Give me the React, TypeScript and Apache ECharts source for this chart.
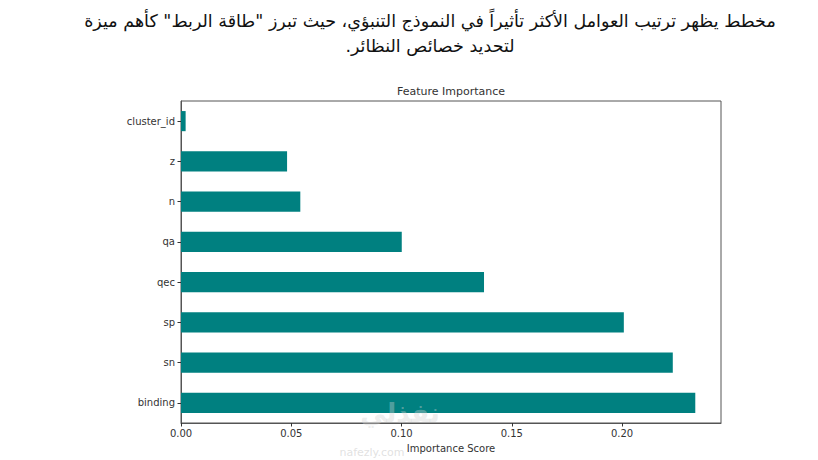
import React, { useEffect, useRef } from "react";
import * as echarts from "echarts";

const categories = ["binding", "sn", "sp", "qec", "qa", "n", "z", "cluster_id"];
const importance = [0.2332, 0.223, 0.2008, 0.1374, 0.1001, 0.0541, 0.0481, 0.0021];
const xTicks = [0, 0.05, 0.1, 0.15, 0.2];
const headingLines = [
  'مخطط يظهر ترتيب العوامل الأكثر تأثيراً في النموذج التنبؤي، حيث تبرز "طاقة الربط" كأهم ميزة',
  "لتحديد خصائص النظائر.",
];
const chartTitle = "Feature Importance";
const xName = "Importance Score";
const watermark = ["نفذلي", "nafezly.com"];

const RLM = "\u200F";

export default function App() {
  const ref = useRef<HTMLDivElement>(null);
  useEffect(() => {
    if (!ref.current) return;
    const chart = echarts.init(ref.current, undefined, { renderer: "svg" });
    const font = "DejaVu Sans";
    chart.setOption({
      animation: false,
      backgroundColor: "#ffffff",
      grid: {
        left: 181,
        right: 97,
        top: 101,
        bottom: 37,
        show: true,
        borderColor: "#555",
        borderWidth: 1,
        containLabel: false,
      },
      xAxis: {
        type: "value",
        min: 0,
        max: Math.max(...importance) * 1.05,
        interval: 0.05,
        name: xName,
        nameLocation: "middle",
        nameGap: 20,
        nameTextStyle: { fontFamily: font, fontSize: 10, color: "#333" },
        axisLine: { show: true, lineStyle: { color: "#555", width: 1 } },
        axisTick: { show: true, length: 3.5, lineStyle: { color: "#333" } },
        splitLine: { show: false },
        axisLabel: {
          fontFamily: font,
          fontSize: 10,
          color: "#333",
          margin: 5,
          showMaxLabel: false,
          formatter: (v: number) =>
            xTicks.some((t) => Math.abs(t - v) < 1e-9) ? v.toFixed(2) : "",
        },
      },
      yAxis: {
        type: "category",
        data: categories,
        axisLine: { show: true, lineStyle: { color: "#555", width: 1 } },
        axisTick: { show: true, alignWithLabel: true, length: 3.5, lineStyle: { color: "#333" } },
        axisLabel: { fontFamily: font, fontSize: 10, color: "#333", margin: 6 },
        splitLine: { show: false },
      },
      series: [
        {
          type: "bar",
          data: importance,
          barWidth: "50%",
          itemStyle: { color: "#008080" },
        },
      ],
      graphic: [
        {
          type: "text",
          style: {
            text: headingLines[0] + RLM,
            x: 430,
            y: 21,
            align: "center",
            verticalAlign: "middle",
            fontFamily: "DejaVu Sans",
            fontSize: 17.5,
            fill: "#111",
          },
        },
        {
          type: "text",
          style: {
            text: headingLines[1] + RLM,
            x: 430,
            y: 46,
            align: "center",
            verticalAlign: "middle",
            fontFamily: "DejaVu Sans",
            fontSize: 17.5,
            fill: "#111",
          },
        },
        {
          type: "text",
          style: {
            text: chartTitle,
            x: 451,
            y: 91,
            align: "center",
            verticalAlign: "middle",
            fontFamily: font,
            fontSize: 11,
            fill: "#333",
          },
        },
        {
          type: "text",
          z: 100,
          style: {
            text: watermark[0],
            x: 400,
            y: 413,
            align: "center",
            verticalAlign: "middle",
            fontFamily: "DejaVu Sans",
            fontSize: 26,
            fontWeight: "bold",
            fill: "rgba(210,210,210,0.4)",
          },
        },
        {
          type: "text",
          z: 100,
          style: {
            text: watermark[1],
            x: 372,
            y: 452,
            align: "center",
            verticalAlign: "middle",
            fontFamily: "DejaVu Sans",
            fontSize: 11,
            fill: "rgba(200,200,200,0.55)",
          },
        },
      ],
    });
    return () => chart.dispose();
  }, []);
  return (
    <div
      ref={ref}
      style={{ position: "fixed", left: 0, top: 0, width: 818, height: 460, background: "#fff" }}
    />
  );
}
